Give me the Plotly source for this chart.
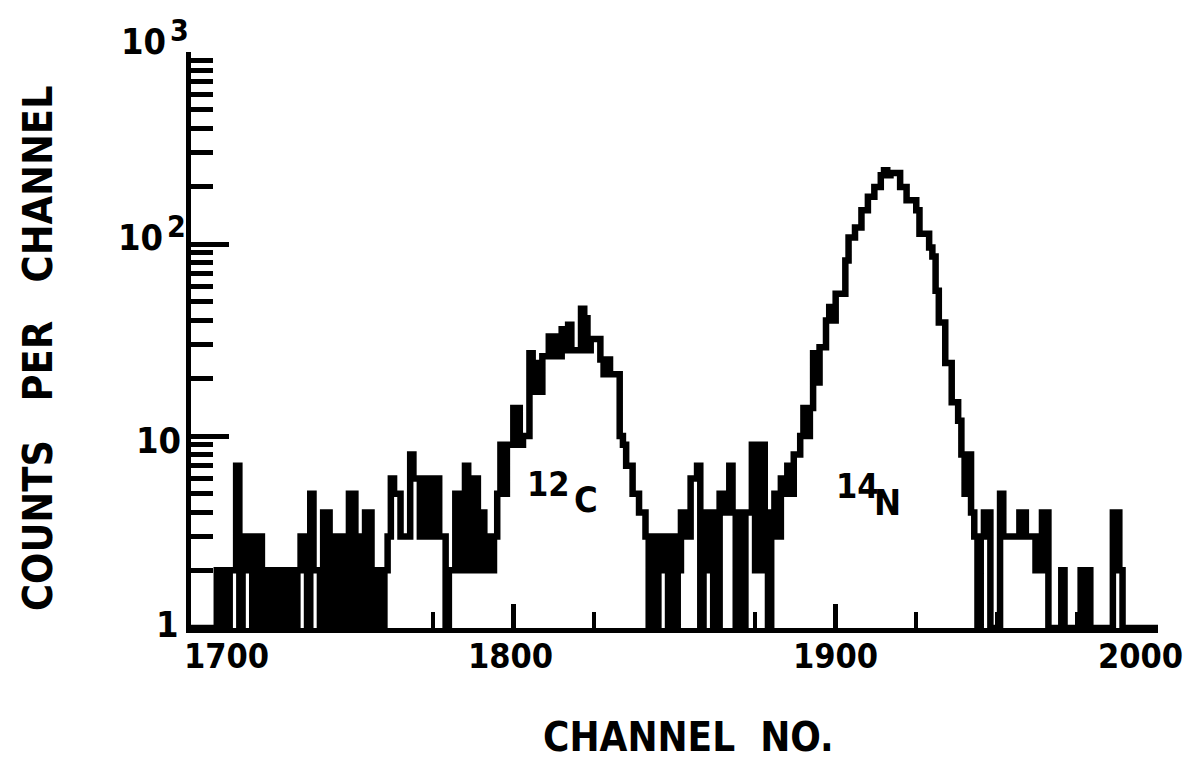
import numpy as np
import plotly.graph_objects as go

# ---------------- data ----------------
first_channel = 1700
counts = [
    0, 0, 0, 0, 0, 0, 0, 0, 2, 0,          # 1700
    2, 0, 2, 2, 7, 0, 2, 3, 3, 0,          # 1710
    3, 3, 0, 2, 0, 2, 0, 0, 2, 0,          # 1720
    2, 2, 0, 2, 3, 3, 0, 5, 2, 2,          # 1730
    0, 4, 4, 0, 3, 0, 3, 3, 0, 5,          # 1740
    5, 0, 3, 0, 4, 4, 0, 2, 2, 0,          # 1750
    2, 3, 6, 5, 5, 3, 3, 3, 8, 6,          # 1760
    6, 3, 6, 3, 3, 6, 6, 3, 3, 0,          # 1770
    2, 2, 5, 2, 5, 7, 2, 6, 6, 2,          # 1780
    4, 2, 3, 2, 3, 5, 9, 5, 9, 9,          # 1790
    14, 14, 9, 10, 10, 27, 17, 24, 17, 26,  # 1800
    26, 33, 26, 33, 26, 36, 28, 38, 28, 28,  # 1810
    28, 46, 41, 28, 32, 32, 32, 25, 21, 25,  # 1820
    21, 21, 21, 10, 9, 7, 7, 5, 5, 4,      # 1830
    4, 3, 0, 3, 0, 2, 3, 3, 0, 3,          # 1840
    0, 2, 4, 4, 3, 6, 6, 7, 1, 4,          # 1850
    2, 4, 0, 0, 5, 4, 4, 7, 4, 0,          # 1860
    4, 0, 4, 4, 9, 2, 2, 9, 4, 0,          # 1870
    3, 5, 3, 6, 5, 7, 5, 8, 8, 10,         # 1880
    14, 10, 14, 27, 19, 29, 29, 40, 47, 40,  # 1890
    55, 55, 55, 82, 108, 108, 122, 122, 150, 150,   # 1900
    176, 176, 198, 198, 228, 242, 228, 234, 234, 234,  # 1910
    198, 198, 169, 169, 169, 150, 113, 113, 113, 96,   # 1920
    86, 57, 39, 39, 24, 24, 15, 15, 12, 8,  # 1930
    5, 8, 4, 3, 0, 3, 4, 4, 0, 0,          # 1940
    0, 5, 3, 3, 3, 3, 3, 4, 4, 3,          # 1950
    3, 3, 2, 2, 4, 4, 0, 0, 0, 0,          # 1960
    2, 0, 0, 0, 0, 0, 2, 1, 2, 0,          # 1970
    0, 0, 0, 0, 0, 0, 4, 4, 2, 0,          # 1980
    0, 0, 0, 0, 0, 0, 0, 0, 0, 0,          # 1990
]

x_range = [1700, 2000]
x_major_ticks = [1700, 1800, 1900, 2000]
x_minor_ticks = [1725, 1750, 1775, 1825, 1850, 1875, 1925, 1950, 1975]
x_tick_labels = ["1700", "1800", "1900", "2000"]

y_major_ticks = [1, 10, 100, 1000]
y_minor_ticks = [m * d for d in (1, 10, 100) for m in range(2, 10)]
y_tick_base = ["1", "10", "10", "10"]
y_tick_exp = ["", "", "2", "3"]

peak_labels = [("12", "C"), ("14", "N")]
x_title = "CHANNEL\u00a0\u00a0NO."
y_title = "COUNTS\u00a0\u00a0\u00a0PER\u00a0\u00a0\u00a0CHANNEL"

# ---------------- figure ----------------
W, H = 1204, 761
L, R, T, B = 191, 46, 52, 133
PW, PH = W - L - R, H - T - B

def px(xp):
    return (xp - L) / PW

def py(yp):
    return (H - B - yp) / PH

ch = np.arange(first_channel, first_channel + len(counts))
x_step = np.append(ch, ch[-1] + 1)
c = np.maximum(np.array(counts, dtype=float), 1.0)
y_step = np.append(c, c[-1])

FONT = "DejaVu Sans Condensed, DejaVu Sans, sans-serif"

fig = go.Figure()
fig.add_trace(go.Scatter(
    x=x_step, y=y_step, mode="lines",
    line=dict(shape="hv", color="black", width=6.5),
    hoverinfo="skip", showlegend=False,
))

ann = []
# x tick labels
x_label_px = [226, 510, 835, 1140]
for v, t, xp in zip(x_major_ticks, x_tick_labels, x_label_px):
    ann.append(dict(x=px(xp), y=py(656), xref="paper", yref="paper", text=t,
                    showarrow=False, xanchor="center", yanchor="middle",
                    font=dict(family=FONT, size=34, color="black", weight="bold")))
# y tick labels
y_label_px = {1: (181, 624), 10: (183, 440), 100: (165, 238), 1000: (168, 42)}
for v, b, e in zip(y_major_ticks, y_tick_base, y_tick_exp):
    xr, yc = y_label_px[v]
    ann.append(dict(x=px(xr), y=py(yc), xref="paper", yref="paper", text=b,
                    showarrow=False, xanchor="right", yanchor="middle",
                    font=dict(family=FONT, size=36, color="black", weight="bold")))
    if e:
        ann.append(dict(x=px(xr), y=py(yc - 12), xref="paper", yref="paper", text=e,
                        showarrow=False, xanchor="left", yanchor="middle",
                        font=dict(family=FONT, size=30, color="black", weight="bold")))
# peak labels
peak_px = [((548, 484), (586, 499)), ((857, 486), (887, 502))]
for (num, sym), ((x1, y1), (x2, y2)) in zip(peak_labels, peak_px):
    ann.append(dict(x=px(x1), y=py(y1), xref="paper", yref="paper", text=num,
                    showarrow=False, xanchor="center", yanchor="middle",
                    font=dict(family=FONT, size=34, color="black", weight="bold")))
    ann.append(dict(x=px(x2), y=py(y2), xref="paper", yref="paper", text=sym,
                    showarrow=False, xanchor="center", yanchor="middle",
                    font=dict(family=FONT, size=36, color="black", weight="bold")))
# axis titles
ann.append(dict(x=px(688), y=py(737), xref="paper", yref="paper", text=x_title,
                showarrow=False, xanchor="center", yanchor="middle",
                font=dict(family=FONT, size=40, color="black", weight="bold")))
ann.append(dict(x=px(38), y=py(348), xref="paper", yref="paper", text=y_title,
                showarrow=False, xanchor="center", yanchor="middle", textangle=-90,
                font=dict(family=FONT, size=41, color="black", weight="bold")))

fig.update_layout(
    width=W, height=H,
    margin=dict(l=L, r=R, t=T, b=B, pad=0),
    paper_bgcolor="white", plot_bgcolor="white",
    showlegend=False,
    annotations=ann,
    xaxis=dict(
        range=x_range, showgrid=False, zeroline=False,
        showline=True, linecolor="black", linewidth=5,
        ticks="inside", tickvals=x_major_ticks, ticklen=24, tickwidth=5, tickcolor="black",
        showticklabels=False,
        minor=dict(tickvals=x_minor_ticks, ticks="inside", ticklen=16, tickwidth=4,
                   tickcolor="black", showgrid=False),
    ),
    yaxis=dict(
        type="log", range=[0, 3], showgrid=False, zeroline=False,
        showline=True, linecolor="black", linewidth=5,
        ticks="inside", tickvals=y_major_ticks, ticklen=38, tickwidth=5, tickcolor="black",
        showticklabels=False,
        minor=dict(tickvals=y_minor_ticks, ticks="inside", ticklen=22, tickwidth=5,
                   tickcolor="black", showgrid=False),
    ),
)

fig.write_html("out.html")
